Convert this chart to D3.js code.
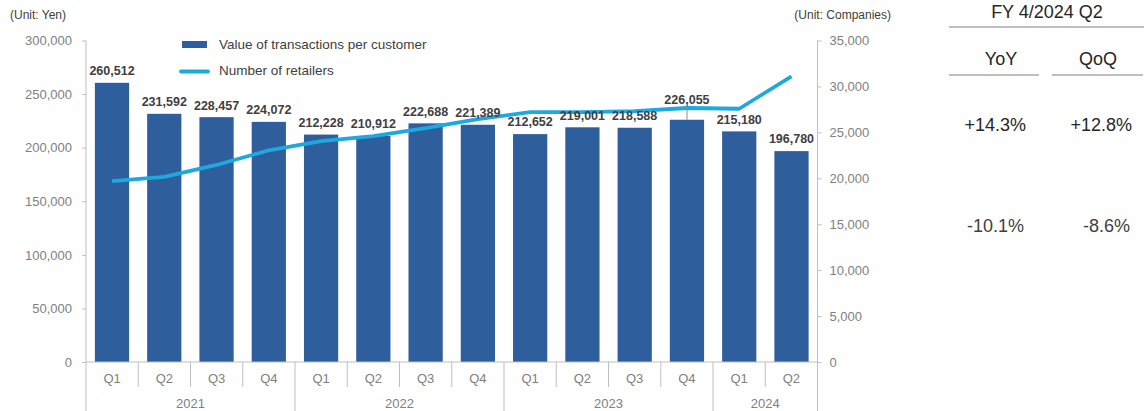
<!DOCTYPE html>
<html>
<head>
<meta charset="utf-8">
<script src="https://cdn.jsdelivr.net/npm/d3@7/dist/d3.min.js"></script>
<style>
  html, body { margin: 0; padding: 0; background: #fff; }
  svg { display: block; font-family: "Liberation Sans", Arial, sans-serif; }
</style>
</head>
<body>
<svg id="chart" width="1145" height="411"></svg>
<script>
// Quarterly data, FY2021 Q1 .. FY2024 Q2
const quarters = ["Q1","Q2","Q3","Q4","Q1","Q2","Q3","Q4","Q1","Q2","Q3","Q4","Q1","Q2"];
const years = ["2021","2021","2021","2021","2022","2022","2022","2022","2023","2023","2023","2023","2024","2024"];
const transactionValue = [260512,231592,228457,224072,212228,210912,222688,221389,212652,219001,218588,226055,215180,196780];
const retailers = [19700,20150,21450,23050,24050,24600,25450,26450,27200,27210,27320,27650,27570,31100];
const leftTicks = [0,50000,100000,150000,200000,250000,300000];
const rightTicks = [0,5000,10000,15000,20000,25000,30000,35000];
const summaryHead = ["YoY","QoQ"];
const summaryRetailers = ["+14.3%","+12.8%"];
const summaryValue = ["-10.1%","-8.6%"];

const svg = d3.select("#chart");
const plotLeft = 86, plotRight = 817.5, plotTop = 40.5, plotBottom = 362;
const barColor = "#2E5E9C", lineColor = "#1DA8DF";
const axisColor = "#BFBFBF", tickText = "#808080";

const idx = d3.range(quarters.length);
const x = d3.scaleBand().domain(idx).range([plotLeft, plotRight]).paddingInner(0.345).paddingOuter(0.17);
const step = (plotRight - plotLeft) / quarters.length;
const yL = d3.scaleLinear().domain([0, 300000]).range([plotBottom, plotTop]);
const yR = d3.scaleLinear().domain([0, 35000]).range([plotBottom, plotTop]);

// unit captions
svg.append("text").attr("x", 10).attr("y", 19).attr("font-size", 12).attr("fill", "#404040").text("(Unit: Yen)");
svg.append("text").attr("x", 891).attr("y", 19).attr("text-anchor", "end").attr("font-size", 12).attr("fill", "#404040").text("(Unit: Companies)");

// left axis
const gL = svg.append("g").attr("transform", `translate(${plotLeft},0)`)
  .call(d3.axisLeft(yL).tickValues(leftTicks).tickSize(4).tickPadding(10).tickFormat(d3.format(",")));
gL.select(".domain").attr("stroke", axisColor).attr("d", `M0,${plotTop}V${plotBottom}`);
gL.selectAll(".tick line").attr("stroke", axisColor);
gL.selectAll(".tick text").attr("fill", tickText).attr("font-size", 13).attr("font-family", "Liberation Sans, Arial, sans-serif");

// right axis
const gR = svg.append("g").attr("transform", `translate(${plotRight},0)`)
  .call(d3.axisRight(yR).tickValues(rightTicks).tickSize(4).tickPadding(8).tickFormat(d3.format(",")));
gR.select(".domain").attr("stroke", axisColor).attr("d", `M0,${plotTop}V${plotBottom + 49}`);
gR.selectAll(".tick line").attr("stroke", axisColor);
gR.selectAll(".tick text").attr("fill", tickText).attr("font-size", 13).attr("font-family", "Liberation Sans, Arial, sans-serif");

// bars
svg.append("g").selectAll("rect").data(idx).join("rect")
  .attr("x", i => x(i)).attr("width", x.bandwidth())
  .attr("y", i => yL(transactionValue[i]))
  .attr("height", i => plotBottom - yL(transactionValue[i]))
  .attr("fill", barColor);

// baseline
svg.append("line").attr("x1", plotLeft).attr("x2", plotRight).attr("y1", plotBottom).attr("y2", plotBottom).attr("stroke", axisColor);

// category axis: quarter separators and year separators
const yearStarts = idx.filter(i => i === 0 || years[i] !== years[i - 1]);
idx.forEach(i => {
  if (i === 0) return;
  const xs = plotLeft + step * i;
  const isYear = years[i] !== years[i - 1];
  svg.append("line").attr("x1", xs).attr("x2", xs).attr("y1", plotBottom)
    .attr("y2", isYear ? 411 : plotBottom + 25).attr("stroke", axisColor);
});
svg.append("line").attr("x1", plotLeft).attr("x2", plotLeft).attr("y1", plotBottom).attr("y2", 411).attr("stroke", axisColor);

svg.append("g").selectAll("text").data(idx).join("text")
  .attr("x", i => plotLeft + step * (i + 0.5)).attr("y", 383)
  .attr("text-anchor", "middle").attr("font-size", 13).attr("fill", tickText)
  .text(i => quarters[i]);

yearStarts.forEach((s, k) => {
  const e = k + 1 < yearStarts.length ? yearStarts[k + 1] : quarters.length;
  svg.append("text").attr("x", plotLeft + step * (s + e) / 2).attr("y", 408)
    .attr("text-anchor", "middle").attr("font-size", 13).attr("fill", tickText).text(years[s]);
});

// retailer line
const line = d3.line().x(i => x(i) + x.bandwidth() / 2).y(i => yR(retailers[i]));
svg.append("path").datum(idx).attr("d", line)
  .attr("fill", "none").attr("stroke", lineColor).attr("stroke-width", 3.8).attr("stroke-linejoin", "round");

// bar value labels (Q4 2023 lifted above the line with a leader)
const lift = idx.map(i => i === 11 ? 20 : 12);
idx.filter(i => lift[i] > 12).forEach(i => {
  const cx = x(i) + x.bandwidth() / 2;
  svg.append("line").attr("x1", cx).attr("x2", cx)
    .attr("y1", yL(transactionValue[i]) - lift[i] + 7).attr("y2", yL(transactionValue[i]))
    .attr("stroke", "#8c8c8c").attr("stroke-width", 1);
});
svg.append("g").selectAll("text").data(idx).join("text")
  .attr("x", i => x(i) + x.bandwidth() / 2)
  .attr("y", i => yL(transactionValue[i]) - lift[i])
  .attr("dy", "0.35em")
  .attr("text-anchor", "middle").attr("font-size", 12.5).attr("font-weight", "bold").attr("fill", "#404040")
  .text(i => d3.format(",")(transactionValue[i]));

// legend
const lg = svg.append("g").attr("font-size", 13.5).attr("fill", "#404040");
lg.append("rect").attr("x", 182).attr("y", 41).attr("width", 25).attr("height", 7).attr("fill", barColor);
lg.append("text").attr("x", 219).attr("y", 44).attr("dy", "0.35em").text("Value of transactions per customer");
lg.append("line").attr("x1", 181).attr("x2", 208).attr("y1", 71.5).attr("y2", 71.5)
  .attr("stroke", lineColor).attr("stroke-width", 3.8).attr("stroke-linecap", "round");
lg.append("text").attr("x", 219).attr("y", 70).attr("dy", "0.35em").text("Number of retailers");

// summary table
const tb = svg.append("g").attr("fill", "#262626").attr("font-size", 18);
tb.append("text").attr("x", 1047).attr("y", 12).attr("dy", "0.35em").attr("text-anchor", "middle").text("FY 4/2024 Q2");
tb.append("line").attr("x1", 949).attr("x2", 1144).attr("y1", 27).attr("y2", 27).attr("stroke", "#7f7f7f").attr("stroke-width", 1.2);
const colC = [1001, 1098];
summaryHead.forEach((h, k) => {
  tb.append("text").attr("x", colC[k]).attr("y", 59).attr("dy", "0.35em").attr("text-anchor", "middle").text(h);
});
tb.append("line").attr("x1", 949).attr("x2", 1039).attr("y1", 75).attr("y2", 75).attr("stroke", "#7f7f7f").attr("stroke-width", 1.2);
tb.append("line").attr("x1", 1052).attr("x2", 1143).attr("y1", 75).attr("y2", 75).attr("stroke", "#7f7f7f").attr("stroke-width", 1.2);
const colR = [1026, 1132];
summaryRetailers.forEach((t, k) => {
  tb.append("text").attr("x", colR[k]).attr("y", 125).attr("dy", "0.35em").attr("text-anchor", "end").text(t);
});
summaryValue.forEach((t, k) => {
  tb.append("text").attr("x", colR[k] - 2).attr("y", 226).attr("dy", "0.35em").attr("text-anchor", "end").attr("fill", "#404040").text(t);
});
</script>
</body>
</html>
